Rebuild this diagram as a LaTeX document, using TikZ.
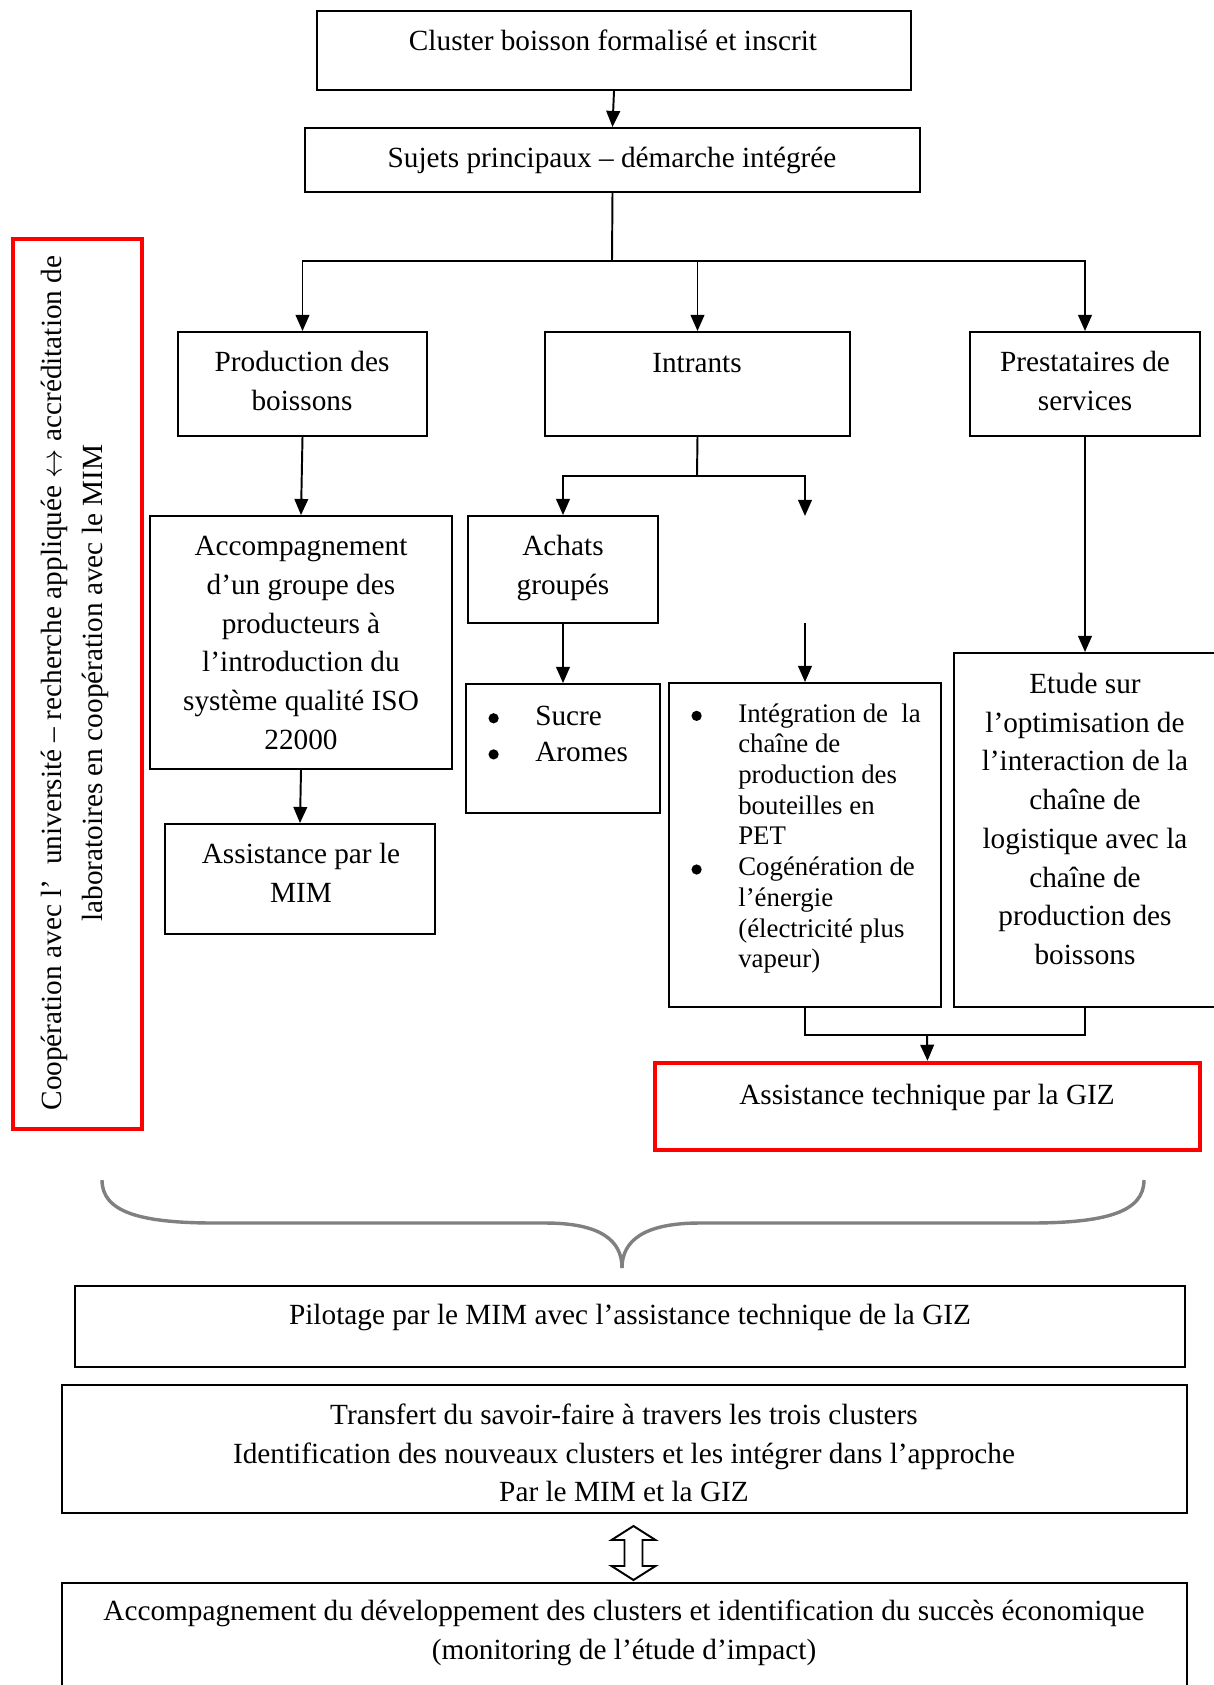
\documentclass[tikz,border=0pt,12pt]{standalone}
\usepackage{fontspec}
\setmainfont{Liberation Serif}
\usetikzlibrary{arrows.meta, fit, calc}

% puce plus grosse, comme dans le document d'origine
\newcommand{\puce}{\tikz[baseline=-0.5ex, x=1pt, y=1pt]\fill (0,0) circle (2.1);}

\begin{document}
\begin{tikzpicture}[x=0.41pt, y=-0.41pt,
    >={Triangle[length=6.6pt, width=5.6pt]},
    cadre/.style={draw, line width=0.8pt, inner sep=0pt},
    cadrerouge/.style={draw=red, line width=1.8pt, inner sep=0pt},
    texte/.style={font=\fontsize{12}{15.9}\selectfont, align=center, inner sep=0pt},
    petit/.style={font=\fontsize{11}{12.6}\selectfont, inner sep=0pt},
    fleche/.style={->, line width=0.8pt}]

    \useasboundingbox (0,0) rectangle (1213,1685);

    % =================================================================
    % HAUT : CLUSTER ET SUJETS PRINCIPAUX
    % =================================================================
    \node[cadre, fit={(317,11) (911,90)}] (cluster) {};
    \node[texte] (clustert) at (613,40) {Cluster boisson formalisé et inscrit};

    \node[cadre, fit={(305,128) (920,192)}] (sujets) {};
    \node[texte] (sujetst) at (612,160) {Sujets principaux – démarche intégrée};

    \draw[fleche] (cluster.south) -- (sujets.north);

    % Barre de répartition vers les trois colonnes
    \coordinate (bus) at (612,261);
    \node[cadre, fit={(178,332) (427,436)}] (prod) {};
    \node[texte] (prodt) at (302,381) {Production des\\ boissons};
    \node[cadre, fit={(545,332) (850,436)}] (intrants) {};
    \node[texte] (intrantst) at (697,363) {Intrants};
    \node[cadre, fit={(970,332) (1200,436)}] (presta) {};
    \node[texte] (prestat) at (1085,381) {Prestataires de\\ services};

    \draw[line width=0.8pt] (sujets.south) -- (bus);
    \draw[fleche] (bus) -| (prod.north);
    \draw[fleche] (bus) -| (intrants.north);
    \draw[fleche] (bus) -| (presta.north);

    % =================================================================
    % COLONNE GAUCHE : PRODUCTION
    % =================================================================
    \node[cadre, fit={(150,516) (452,769)}] (accomp) {};
    \node[texte] (accompt) at (301,643) {Accompagnement\\ d’un groupe des\\ producteurs à\\
        l’introduction du\\ système qualité ISO\\ 22000};
    \node[cadre, fit={(165,824) (435,934)}] (mim) {};
    \node[texte] (mimt) at (301,873) {Assistance par le\\ MIM};

    \draw[fleche] (prod.south) -- (accomp.north);
    \draw[fleche] (accomp.south) -- (mim.north);

    % =================================================================
    % COLONNE CENTRALE : INTRANTS
    % =================================================================
    \coordinate (partage) at (697,476);
    \coordinate (vide) at (805,516);
    \coordinate (videbas) at (805,623);

    \node[cadre, fit={(468,516) (658,623)}] (achats) {};
    \node[texte] (achatst) at (563,568) {Achats\\ groupés};
    \node[cadre, fit={(466,684) (660,813)}] (sucre) {};
    \node[anchor=base west, font=\fontsize{12}{14.8}\selectfont, inner sep=0pt] (sucret) at (488,725)
        {\begin{tabular}[t]{@{}l@{\hspace{15pt}}l@{}}
            \puce & Sucre\\
            \puce & Aromes
        \end{tabular}};

    \node[cadre, fit={(669,683) (941,1007)}] (integ) {};
    \node[petit, anchor=base west] (integt) at (691,722)
        {\begin{tabular}[t]{@{}l@{\hspace{15pt}}l@{}}
            \puce & Intégration de\ \ la\\
                  & chaîne de\\
                  & production des\\
                  & bouteilles en\\
                  & PET\\
            \puce & Cogénération de\\
                  & l’énergie\\
                  & (électricité plus\\
                  & vapeur)
        \end{tabular}};

    \draw[line width=0.8pt] (intrants.south) -- (partage);
    \draw[fleche] (partage) -| (achats.north);
    \draw[fleche] (partage) -| (vide);
    \draw[fleche] (achats.south) -- (sucre.north);
    \draw[fleche] (videbas) -- (integ.north);

    % =================================================================
    % COLONNE DROITE : PRESTATAIRES
    % =================================================================
    \node[cadre, fit={(954,653) (1216,1007)}] (etude) {};
    \node[texte] (etudet) at (1085,819) {Etude sur\\ l’optimisation de\\ l’interaction de la\\
        chaîne de\\ logistique avec la\\ chaîne de\\ production des\\ boissons};

    \draw[fleche] (presta.south) -- (etude.north);

    % Assistance GIZ (cadre rouge)
    \coordinate (jonction) at (927,1035);
    \node[cadrerouge, fit={(655,1063) (1200,1150)}] (giz) {};
    \node[texte] (gizt) at (927,1097) {Assistance technique par la GIZ};

    \draw[line width=0.8pt] (integ.south) |- (jonction) -| (etude.south);
    \draw[fleche] (jonction) -- (giz.north);

    % =================================================================
    % CADRE ROUGE VERTICAL A GAUCHE
    % =================================================================
    \node[cadrerouge, fit={(13,239) (142,1129)}] (coop) {};
    \node[texte, rotate=90, font=\fontsize{12}{16.8}\selectfont] (coopt) at (75,683)
        {Coopération avec l’\ \ université – recherche appliquée $\leftrightarrow$ accréditation de\\
        laboratoires en coopération avec le MIM};

    % =================================================================
    % ACCOLADE ET BAS DU SCHEMA
    % =================================================================
    \draw[gray, line width=1.4pt]
        (102,1180) .. controls (102,1212) and (140,1223) .. (215,1223) -- (545,1223)
        .. controls (600,1223) and (622,1240) .. (622,1268);
    \draw[gray, line width=1.4pt]
        (1144,1180) .. controls (1144,1212) and (1106,1223) .. (1030,1223) -- (700,1223)
        .. controls (645,1223) and (622,1240) .. (622,1268);

    \node[cadre, fit={(75,1286) (1185,1367)}] (pilotage) {};
    \node[texte] (pilotaget) at (630,1317) {Pilotage par le MIM avec l’assistance technique de la GIZ};

    \node[cadre, fit={(62,1385) (1187,1513)}] (transfert) {};
    \node[texte] (transfertt) at (624,1453) {Transfert du savoir-faire à travers les trois clusters\\
        Identification des nouveaux clusters et les intégrer dans l’approche\\
        Par le MIM et la GIZ};

    \node[cadre, fit={(62,1583) (1187,1700)}] (suivi) {};
    \node[texte] (suivit) at (624,1633) {Accompagnement du développement des clusters et identification du succès économique\\
        (monitoring de l’étude d’impact)};

    % Double flèche creuse entre les deux derniers cadres
    \coordinate (milieu) at ($(transfert.south)!0.5!(suivi.north)+(9,5)$);
    \draw[line width=0.8pt, fill=white, shift={(milieu)}]
        (0,-27) -- (22,-13) -- (9,-13) -- (9,13) -- (22,13) -- (0,27)
        -- (-22,13) -- (-9,13) -- (-9,-13) -- (-22,-13) -- cycle;

\end{tikzpicture}
\end{document}
